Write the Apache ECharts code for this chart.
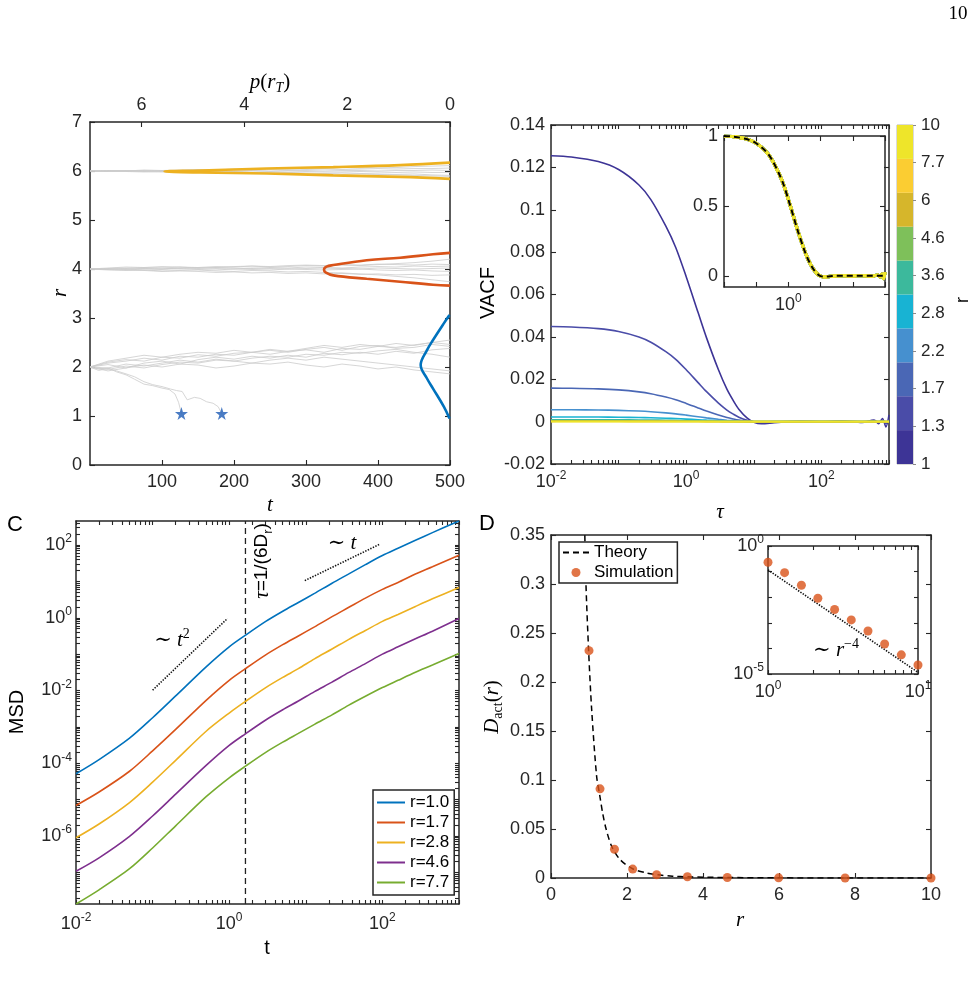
<!DOCTYPE html>
<html>
<head>
<meta charset="utf-8">
<script src="https://cdn.jsdelivr.net/npm/echarts@6/dist/echarts.min.js"></script>
<style>
html, body { margin: 0; padding: 0; background: #fff; }
#chart { width: 974px; height: 992px; }
</style>
</head>
<body>
<div id="chart"></div>
<script>
// ---------- panel A: trajectories r(t), and p(r_T) at the end ----------
const trajT = [0, 25, 50, 75, 100, 125, 150, 175, 200, 225, 250, 275, 300, 325, 350, 375, 400, 425, 450, 475, 500]
const trajR6 = [
  [6.00, 6.01, 6.00, 6.02, 6.01, 6.02, 6.03, 6.02, 6.04, 6.03, 6.05, 6.04, 6.06, 6.05, 6.07, 6.06, 6.08, 6.07, 6.09, 6.10, 6.11],
  [6.00, 5.99, 6.00, 5.99, 5.98, 5.99, 5.98, 5.97, 5.98, 5.97, 5.96, 5.97, 5.96, 5.95, 5.96, 5.95, 5.94, 5.93, 5.94, 5.92, 5.91],
  [6.00, 6.00, 6.01, 6.01, 6.00, 6.01, 6.02, 6.01, 6.02, 6.02, 6.03, 6.02, 6.03, 6.04, 6.03, 6.04, 6.05, 6.04, 6.05, 6.05, 6.06],
  [6.00, 6.00, 5.99, 6.00, 6.00, 5.99, 6.00, 5.99, 5.99, 6.00, 5.99, 5.98, 5.99, 5.98, 5.98, 5.99, 5.98, 5.97, 5.98, 5.97, 5.97],
  [6.00, 6.01, 6.01, 6.00, 6.01, 6.00, 6.00, 6.01, 6.00, 6.01, 6.00, 6.01, 6.01, 6.00, 6.01, 6.01, 6.00, 6.01, 6.01, 6.02, 6.01],
  [6.00, 5.99, 5.99, 5.98, 5.99, 5.98, 5.97, 5.98, 5.96, 5.97, 5.96, 5.95, 5.94, 5.95, 5.93, 5.94, 5.93, 5.92, 5.91, 5.90, 5.89]
]
const trajR4 = [
  [4.00, 4.02, 4.04, 4.03, 4.05, 4.04, 4.02, 4.03, 4.05, 4.06, 4.04, 4.05, 4.07, 4.06, 4.08, 4.07, 4.09, 4.11, 4.13, 4.16, 4.20],
  [4.00, 3.98, 3.97, 3.98, 3.96, 3.97, 3.98, 3.96, 3.95, 3.97, 3.96, 3.94, 3.95, 3.93, 3.92, 3.90, 3.88, 3.85, 3.82, 3.78, 3.74],
  [4.00, 4.01, 3.99, 4.01, 4.02, 4.00, 4.01, 4.03, 4.02, 4.01, 4.03, 4.02, 4.04, 4.03, 4.02, 4.04, 4.05, 4.04, 4.06, 4.05, 4.06],
  [4.00, 3.99, 4.00, 3.98, 3.99, 4.01, 3.99, 3.98, 4.00, 3.99, 3.98, 4.00, 3.99, 3.98, 3.99, 4.00, 3.98, 3.97, 3.98, 3.96, 3.95],
  [4.00, 4.01, 4.02, 4.01, 4.00, 4.02, 4.03, 4.01, 4.00, 4.02, 4.01, 4.00, 4.01, 4.02, 4.01, 4.00, 4.02, 4.01, 4.00, 4.01, 4.02],
  [4.00, 3.99, 3.98, 3.97, 3.95, 3.96, 3.95, 3.93, 3.94, 3.92, 3.93, 3.91, 3.92, 3.90, 3.91, 3.89, 3.90, 3.88, 3.89, 3.87, 3.88],
  [4.00, 4.00, 4.01, 4.03, 4.02, 4.04, 4.03, 4.05, 4.04, 4.06, 4.05, 4.07, 4.08, 4.07, 4.09, 4.08, 4.10, 4.09, 4.08, 4.10, 4.09]
]
const trajR2 = [
  [2.00, 2.10, 2.15, 2.12, 2.20, 2.18, 2.25, 2.22, 2.28, 2.30, 2.26, 2.32, 2.35, 2.30, 2.38, 2.36, 2.42, 2.40, 2.45, 2.50, 2.55],
  [2.00, 2.05, 1.98, 2.08, 2.12, 2.06, 2.15, 2.20, 2.16, 2.22, 2.18, 2.24, 2.20, 2.28, 2.25, 2.30, 2.26, 2.32, 2.28, 2.35, 2.38],
  [2.00, 1.95, 2.02, 1.98, 2.05, 2.10, 2.08, 2.14, 2.12, 2.18, 2.22, 2.20, 2.26, 2.24, 2.30, 2.28, 2.33, 2.36, 2.30, 2.26, 2.20],
  [2.00, 2.08, 2.12, 2.18, 2.14, 2.22, 2.20, 2.26, 2.24, 2.30, 2.34, 2.30, 2.36, 2.40, 2.34, 2.42, 2.44, 2.38, 2.40, 2.46, 2.42],
  [2.00, 1.92, 1.98, 2.04, 2.00, 2.06, 2.04, 1.98, 2.02, 2.08, 2.06, 2.10, 2.04, 2.00, 2.06, 2.02, 1.96, 2.00, 1.94, 1.90, 1.86],
  [2.00, 2.12, 2.18, 2.24, 2.20, 2.26, 2.30, 2.28, 2.34, 2.30, 2.36, 2.32, 2.38, 2.44, 2.40, 2.46, 2.42, 2.48, 2.44, 2.50, 2.46],
  [2.00, 1.98, 2.06, 2.02, 2.08, 2.14, 2.10, 2.16, 2.12, 2.08, 2.14, 2.18, 2.14, 2.20, 2.16, 2.12, 2.08, 2.04, 2.00, 1.96, 1.92]
]
// the two walkers that hit the target at r = 1
const absT1 = [0, 12, 25, 37, 50, 62, 75, 87, 100, 110, 118, 123, 127]
const absR1 = [2.00, 1.96, 1.98, 1.90, 1.84, 1.75, 1.65, 1.62, 1.57, 1.54, 1.45, 1.28, 1.05]
const absT2 = [0, 12, 25, 37, 50, 62, 75, 87, 100, 112, 120, 128, 135, 145, 153, 162, 171, 178, 183]
const absR2 = [2.00, 1.93, 1.97, 1.92, 1.86, 1.80, 1.70, 1.64, 1.60, 1.55, 1.52, 1.50, 1.33, 1.38, 1.36, 1.29, 1.26, 1.19, 1.05]
const starT = [127, 183]
const starR = [1.05, 1.05]
// p(r_T) curves (top axis is p, left axis is r)
const distR6 = [5.84, 5.88, 5.91, 5.95, 5.97, 5.99, 6.01, 6.05, 6.08, 6.12, 6.17]
const distP6 = [0.00, 0.97, 2.27, 3.56, 4.85, 5.55, 4.85, 3.56, 2.27, 0.97, 0.00]
const distR4 = [3.66, 3.68, 3.74, 3.80, 3.87, 3.93, 3.99, 4.05, 4.08, 4.18, 4.23, 4.30, 4.33]
const distP4 = [0.00, 0.33, 0.97, 1.62, 2.27, 2.42, 2.45, 2.40, 2.27, 1.62, 0.97, 0.33, 0.00]
const distR2 = [0.95, 1.19, 1.56, 1.77, 2.04, 2.34, 2.55, 2.89, 3.06]
const distP2 = [0.01, 0.12, 0.33, 0.45, 0.57, 0.45, 0.33, 0.12, 0.01]

// ---------- panel B: VACF ----------
const rValues = [1, 1.29, 1.67, 2.15, 2.78, 3.59, 4.64, 5.99, 7.74, 10]
const cbLabels = ['1', '1.3', '1.7', '2.2', '2.8', '3.6', '4.6', '6', '7.7', '10']
const rColors = ['#3d3496', '#4a4ca8', '#4a67b5', '#4690cf', '#18b3d3', '#3cb99c', '#7ec05a', '#d6b62b', '#fbcd32', '#eee52a']
const vacfTau = [0.01, 0.02, 0.05, 0.1, 0.2, 0.3, 0.5, 0.7, 1, 1.5, 2, 3, 4, 5, 6, 8, 10, 13, 20, 30, 50, 100, 200, 400, 600, 700, 800, 900, 1000]
// normalised VACF, all r collapse onto it (inset)
const vacfShape = [1.000, 0.995, 0.978, 0.948, 0.890, 0.835, 0.735, 0.655, 0.545, 0.410, 0.315, 0.195, 0.122, 0.078, 0.047, 0.013, -0.002, -0.008, -0.004, -0.001, 0.001, -0.001, 0.002, -0.003, 0.006, -0.008, 0.012, -0.020, 0.025]
const vacfTheory = [1.000, 0.995, 0.978, 0.948, 0.890, 0.835, 0.735, 0.655, 0.545, 0.410, 0.315, 0.195, 0.122, 0.078, 0.047, 0.013, -0.002, -0.006, -0.003, 0, 0, 0, 0, 0, 0, 0, 0, 0, 0]
// VACF(0) for each r
const vacfAmp = [0.1255, 0.0449, 0.0158, 0.0056, 0.0022, 0.0009, 0.0004, 0.00015, 0.00006, 0.00002]

// ---------- panel C: MSD ----------
const msdT = [0.01, 0.02, 0.05, 0.1, 0.2, 0.5, 1, 1.63, 3, 5, 8, 13, 22, 36, 60, 100, 160, 270, 450, 1000]
const msdNames = ['r=1.0', 'r=1.7', 'r=2.8', 'r=4.6', 'r=7.7']
const msdColors = ['#0072BD', '#D95319', '#EDB120', '#7E2F8E', '#77AC30']
// log10(MSD)
const msdLog = [
  [-4.29, -3.90, -3.31, -2.75, -2.15, -1.35, -0.80, -0.48, -0.10, 0.18, 0.42, 0.67, 0.95, 1.20, 1.46, 1.71, 1.91, 2.13, 2.34, 2.66],
  [-5.16, -4.79, -4.22, -3.66, -3.07, -2.27, -1.72, -1.40, -1.02, -0.74, -0.50, -0.25, 0.03, 0.28, 0.54, 0.78, 0.97, 1.20, 1.40, 1.72],
  [-6.05, -5.67, -5.08, -4.52, -3.92, -3.12, -2.62, -2.30, -1.92, -1.64, -1.40, -1.13, -0.86, -0.60, -0.35, -0.10, 0.09, 0.31, 0.52, 0.83],
  [-6.97, -6.60, -6.01, -5.45, -4.85, -4.06, -3.51, -3.19, -2.81, -2.53, -2.29, -2.03, -1.77, -1.51, -1.26, -1.00, -0.80, -0.58, -0.37, -0.02],
  [-7.87, -7.48, -6.90, -6.33, -5.72, -4.92, -4.40, -4.08, -3.70, -3.42, -3.18, -2.93, -2.67, -2.41, -2.16, -1.92, -1.72, -1.50, -1.30, -0.98]
]
const tauRot = 1.63
const guideT2 = [[0.1, 0.0102], [0.95, 0.955]]
const guideT1 = [[9.7, 10.5], [94, 107]]

// ---------- panel D: D_act(r) ----------
const dSim = [0.232, 0.091, 0.0293, 0.0091, 0.0033, 0.0013, 0.00048, 0.000148, 0.000056, 0.0000224]
const theoryR = [0.88, 0.92, 0.99, 1.07, 1.2, 1.28, 1.36, 1.45, 1.6, 1.82, 2.16, 2.52, 2.8, 3.2, 3.6, 4.6, 6, 7.7, 10]
const theoryD = [0.37, 0.30, 0.232, 0.172, 0.104, 0.085, 0.066, 0.05, 0.032, 0.0187, 0.0092, 0.0051, 0.0033, 0.0019, 0.0012, 0.0005, 0.00016, 0.00006, 0.00002]
const guideR4 = [[1, 0.116], [10, 0.0000116]]

// ---------- styling helpers ----------
const AXC = '#262626'
const SANS = "'Liberation Sans', Arial, Helvetica, sans-serif"
const SERIF = "'Liberation Serif', 'DejaVu Serif', 'Times New Roman', serif"

const grid = []
const xAxis = []
const yAxis = []
const series = []

// tick positions at every decade (with 2..9 minors if asked), kept inside [lo, hi]
function logTicks(lo, hi, minors) {
  const out = []
  for (let e = Math.floor(Math.log10(lo)); e <= Math.ceil(Math.log10(hi)); e++) {
    const p = Math.pow(10, e)
    out.push(p)
    if (minors) for (let m = 2; m <= 9; m++) out.push(m * p)
  }
  return out.filter(v => v >= lo * 0.999999 && v <= hi * 1.000001)
}

const powRich = {
  b: { fontSize: 18, fontFamily: SANS, color: AXC, lineHeight: 24 },
  s: { fontSize: 12, fontFamily: SANS, color: AXC, verticalAlign: 'top', lineHeight: 12 }
}
function pow10(v) {
  return '{b|10}{s|' + Math.round(Math.log10(v)) + '}'
}

function axis(gi, pos, spec, withLabels) {
  const a = {
    gridIndex: gi, position: pos, type: spec.type || 'value',
    min: spec.min, max: spec.max,
    axisLine: { show: true, onZero: false, lineStyle: { color: AXC, width: 1.5 } },
    axisTick: { show: true, inside: true, length: spec.tickLen || 5, lineStyle: { color: AXC, width: 1.1 } },
    axisLabel: { show: false },
    splitLine: { show: false }
  }
  if (spec.inverse) a.inverse = true
  if (spec.interval != null) a.interval = spec.interval
  if (spec.ticks) a.axisTick.customValues = spec.ticks
  if (withLabels && spec.label) {
    a.axisLabel = Object.assign({ show: true, color: AXC, fontFamily: SANS, fontSize: 18, margin: 6 }, spec.label)
  }
  return a
}

// a MATLAB style box: labelled bottom/left axes plus mirrored top/right ones
function frame(gi, xs, ys, xTop) {
  xAxis.push(axis(gi, 'bottom', xs, true))
  xAxis.push(axis(gi, 'top', xTop || xs, !!xTop))
  yAxis.push(axis(gi, 'left', ys, true))
  yAxis.push(axis(gi, 'right', ys, false))
  return { x: xAxis.length - 2, xt: xAxis.length - 1, y: yAxis.length - 2 }
}

function line(ax, data, color, width, extra) {
  return Object.assign({
    type: 'line', xAxisIndex: ax.x, yAxisIndex: ax.y, data: data,
    symbol: 'none', silent: true,
    itemStyle: { color: color },
    lineStyle: { color: color, width: width }
  }, extra || {})
}

// ---------- panel A ----------
grid.push({ left: 90, top: 122, width: 360, height: 343, outerBoundsMode: 'none' })
const fa = frame(0,
  { min: 0, max: 500, interval: 100, label: { showMinLabel: false, margin: 8 } },
  { min: 0, max: 7, interval: 1, label: { margin: 8 } },
  { min: 0, max: 7, inverse: true, ticks: [0, 2, 4, 6], label: { customValues: [0, 2, 4, 6], margin: 8 } })

trajR6.concat(trajR4, trajR2).forEach(rs => {
  series.push(line(fa, trajT.map((t, i) => [t, rs[i]]), '#cbcbcb', 0.8))
})
series.push(line(fa, absT1.map((t, i) => [t, absR1[i]]), '#cbcbcb', 0.8))
series.push(line(fa, absT2.map((t, i) => [t, absR2[i]]), '#cbcbcb', 0.8))
const faTop = { x: fa.xt, y: fa.y }
series.push(line(faTop, distP6.map((p, i) => [p, distR6[i]]), '#EDB120', 2.6, { smooth: 0.4, z: 4 }))
series.push(line(faTop, distP4.map((p, i) => [p, distR4[i]]), '#D95319', 2.6, { smooth: 0.4, z: 4 }))
series.push(line(faTop, distP2.map((p, i) => [p, distR2[i]]), '#0072BD', 2.6, { smooth: 0.4, z: 4 }))
series.push({
  type: 'scatter', xAxisIndex: fa.x, yAxisIndex: fa.y, silent: true, z: 5,
  symbol: 'path://M50,0 L61,35 L98,35 L68,57 L79,91 L50,70 L21,91 L32,57 L2,35 L39,35 Z',
  symbolSize: 13, itemStyle: { color: '#1d5bb5' },
  data: starT.map((t, i) => [t, starR[i]])
})

// ---------- panel B ----------
grid.push({ left: 551, top: 125, width: 338, height: 339, outerBoundsMode: 'none' })
const fb = frame(1,
  { type: 'log', min: 0.01, max: 1000, tickLen: 4, ticks: logTicks(0.01, 1000, true),
    label: { customValues: [0.01, 1, 100], formatter: pow10, rich: powRich, margin: 6 } },
  { min: -0.02, max: 0.14, interval: 0.02, label: {} })
rValues.forEach((r, k) => {
  series.push(line(fb, vacfTau.map((t, i) => [t, vacfAmp[k] * vacfShape[i]]), rColors[k], 1.6, { smooth: 0.3, z: 3 + k * 0.01 }))
})

// inset: normalised VACF
grid.push({ left: 724, top: 136, width: 161, height: 151, show: true, backgroundColor: '#fff', borderWidth: 0, outerBoundsMode: 'none' })
const fbi = frame(2,
  { type: 'log', min: 0.01, max: 1000, ticks: logTicks(0.01, 1000, false),
    label: { customValues: [1], formatter: pow10, rich: powRich, margin: 6 } },
  { min: -0.08, max: 1, ticks: [0, 0.5, 1], label: { customValues: [0, 0.5, 1] } })
rValues.forEach((r, k) => {
  series.push(line(fbi, vacfTau.map((t, i) => [t, vacfShape[i]]), rColors[k], 3.2, { smooth: 0.3, z: 6 }))
})
series.push(line(fbi, vacfTau.map((t, i) => [t, vacfTheory[i]]), '#000', 2, { smooth: 0.3, z: 7, lineStyle: { color: '#000', width: 2, type: [6, 4] } }))

// colorbar
grid.push({ left: 897, top: 125, width: 16, height: 339, show: true, borderColor: '#b4b4b4', borderWidth: 1, outerBoundsMode: 'none' })
xAxis.push({ gridIndex: 3, type: 'category', data: ['cb'], show: false })
yAxis.push({ gridIndex: 3, type: 'value', min: 0, max: 10, show: false })
yAxis.push({
  gridIndex: 3, type: 'value', min: 0, max: 9, interval: 1, position: 'right',
  axisLine: { show: false }, splitLine: { show: false },
  axisTick: { show: true, length: 3, lineStyle: { color: '#8a8a8a' } },
  axisLabel: { color: AXC, fontFamily: SANS, fontSize: 17, margin: 8, formatter: v => cbLabels[v] }
})
const cbX = xAxis.length - 1
const cbY = yAxis.length - 2
rColors.forEach(c => {
  series.push({ type: 'bar', xAxisIndex: cbX, yAxisIndex: cbY, stack: 'cb', data: [1], barWidth: '100%', silent: true, itemStyle: { color: c } })
})

// ---------- panel C ----------
grid.push({ left: 76, top: 521, width: 383, height: 383, outerBoundsMode: 'none' })
const fc = frame(4,
  { type: 'log', min: 0.01, max: 1000, tickLen: 4, ticks: logTicks(0.01, 1000, true),
    label: { customValues: [0.01, 1, 100], formatter: pow10, rich: powRich, margin: 8 } },
  { type: 'log', min: 1.35e-8, max: 457, tickLen: 4, ticks: logTicks(1.35e-8, 457, true),
    label: { customValues: [1e-6, 1e-4, 1e-2, 1, 100], formatter: pow10, rich: powRich, margin: 4 } })
msdLog.forEach((ys, k) => {
  series.push(line(fc, msdT.map((t, i) => [t, Math.pow(10, ys[i])]), msdColors[k], 1.6, { name: msdNames[k], smooth: 0.3, z: 4, silent: false }))
})
series.push(line(fc, [[tauRot, 1.35e-8], [tauRot, 457]], '#222', 1.3, { lineStyle: { color: '#222', width: 1.3, type: [6, 4] } }))
series.push(line(fc, guideT2, '#111', 1.6, { lineStyle: { color: '#111', width: 1.6, type: [1.4, 1.4] } }))
series.push(line(fc, guideT1, '#111', 1.6, { lineStyle: { color: '#111', width: 1.6, type: [1.4, 1.4] } }))

// ---------- panel D ----------
grid.push({ left: 551, top: 535, width: 380, height: 343, outerBoundsMode: 'none' })
const fd = frame(5,
  { min: 0, max: 10, interval: 2, label: { margin: 8 } },
  { min: 0, max: 0.35, interval: 0.05, label: {} })
series.push(line(fd, theoryR.map((r, i) => [r, theoryD[i]]), '#000', 1.5,
  { name: 'Theory', smooth: 0.3, z: 3, silent: false, lineStyle: { color: '#000', width: 1.5, type: [6, 4] } }))
series.push({
  type: 'scatter', name: 'Simulation', xAxisIndex: fd.x, yAxisIndex: fd.y, z: 4,
  symbol: 'circle', symbolSize: 9, itemStyle: { color: '#D95319' },
  data: rValues.map((r, i) => [r, dSim[i]])
})

// inset: log-log
grid.push({ left: 768, top: 546, width: 150, height: 128, show: true, backgroundColor: '#fff', borderWidth: 0, outerBoundsMode: 'none' })
const fdi = frame(6,
  { type: 'log', min: 1, max: 10, tickLen: 4, ticks: logTicks(1, 10, true),
    label: { customValues: [1, 10], formatter: pow10, rich: powRich, margin: 6 } },
  { type: 'log', min: 1e-5, max: 1, tickLen: 4, ticks: logTicks(1e-5, 1, false),
    label: { customValues: [1e-5, 1], formatter: pow10, rich: powRich, margin: 4 } })
series.push(line(fdi, guideR4, '#111', 1.6, { z: 7, lineStyle: { color: '#111', width: 1.6, type: [1.4, 1.4] } }))
series.push({
  type: 'scatter', xAxisIndex: fdi.x, yAxisIndex: fdi.y, silent: true, z: 8, clip: false,
  symbol: 'circle', symbolSize: 9, itemStyle: { color: '#D95319' },
  data: rValues.map((r, i) => [r, dSim[i]])
})

// ---------- legends ----------
const hideDot = { opacity: 0 }
const legend = [
  {
    left: 373, top: 790, orient: 'vertical',
    data: msdNames.map(n => ({ name: n, itemStyle: hideDot })),
    itemWidth: 28, itemHeight: 12, itemGap: 3, padding: [4, 5, 4, 3],
    textStyle: { fontSize: 17, fontFamily: SANS, color: '#000' },
    borderColor: AXC, borderWidth: 1.5, backgroundColor: '#fff', selectedMode: false
  },
  {
    left: 559, top: 542, orient: 'vertical',
    data: [{ name: 'Theory', itemStyle: hideDot }, { name: 'Simulation' }],
    itemWidth: 26, itemHeight: 9, itemGap: 3, padding: [2, 4, 2, 3],
    textStyle: { fontSize: 17, fontFamily: SANS, color: '#000' },
    borderColor: AXC, borderWidth: 1.5, backgroundColor: '#fff', selectedMode: false
  }
]

// ---------- free text ----------
const mathRich = {
  i: { fontFamily: SERIF, fontStyle: 'italic', fontSize: 21, lineHeight: 26, fill: '#000' },
  n: { fontFamily: SERIF, fontSize: 21, lineHeight: 26, fill: '#000' },
  s: { fontFamily: SANS, fontSize: 19, lineHeight: 26, fill: '#000' },
  sub: { fontFamily: SERIF, fontStyle: 'italic', fontSize: 14, verticalAlign: 'bottom', lineHeight: 15, fill: '#000' },
  subn: { fontFamily: SERIF, fontSize: 14, verticalAlign: 'bottom', lineHeight: 15, fill: '#000' },
  subs: { fontFamily: SANS, fontSize: 13, verticalAlign: 'bottom', lineHeight: 14, fill: '#000' },
  sup: { fontFamily: SERIF, fontSize: 14, verticalAlign: 'top', lineHeight: 14, fill: '#000' }
}
function txt(x, y, text, st, rot) {
  return {
    type: 'text', x: x, y: y, rotation: rot || 0, silent: true, z: 100,
    style: Object.assign({ text: text, fill: '#000', fontFamily: SANS, fontSize: 20, align: 'center', verticalAlign: 'middle', rich: mathRich }, st || {})
  }
}
const UP = Math.PI / 2
const graphic = [
  txt(958, 14, '10', { fontFamily: SERIF, fontSize: 19 }),
  txt(270, 82, '{i|p}{n|(}{i|r}{sub|T}{n|)}'),
  txt(270, 505, '{i|t}'),
  txt(60, 293, '{i|r}', {}, UP),
  txt(488, 293, 'VACF', { fontSize: 20 }, UP),
  txt(720, 512, '{i|τ}'),
  txt(963, 300, 'r', { fontSize: 18 }, UP),
  txt(15, 525, 'C', { fontSize: 22 }),
  txt(487, 524, 'D', { fontSize: 22 }),
  txt(17, 712, 'MSD', { fontSize: 20 }, UP),
  txt(267, 948, 't', { fontSize: 20 }),
  txt(262, 561, '{i|τ}{s|=1/(6D}{subs|r}{s|)}', {}, UP),
  txt(172, 640, '{n|∼ }{i|t}{sup|2}'),
  txt(342, 543, '{n|∼ }{i|t}'),
  txt(492, 707, '{i|D}{subn|act}{n|(}{i|r}{n|)}', {}, UP),
  txt(740, 920, '{i|r}'),
  txt(836, 650, '{n|∼ }{i|r}{sup|−4}')
]

const chart = echarts.init(document.getElementById('chart'))
chart.setOption({
  animation: false,
  backgroundColor: '#fff',
  grid: grid,
  xAxis: xAxis,
  yAxis: yAxis,
  legend: legend,
  series: series,
  graphic: graphic
})
</script>
</body>
</html>
